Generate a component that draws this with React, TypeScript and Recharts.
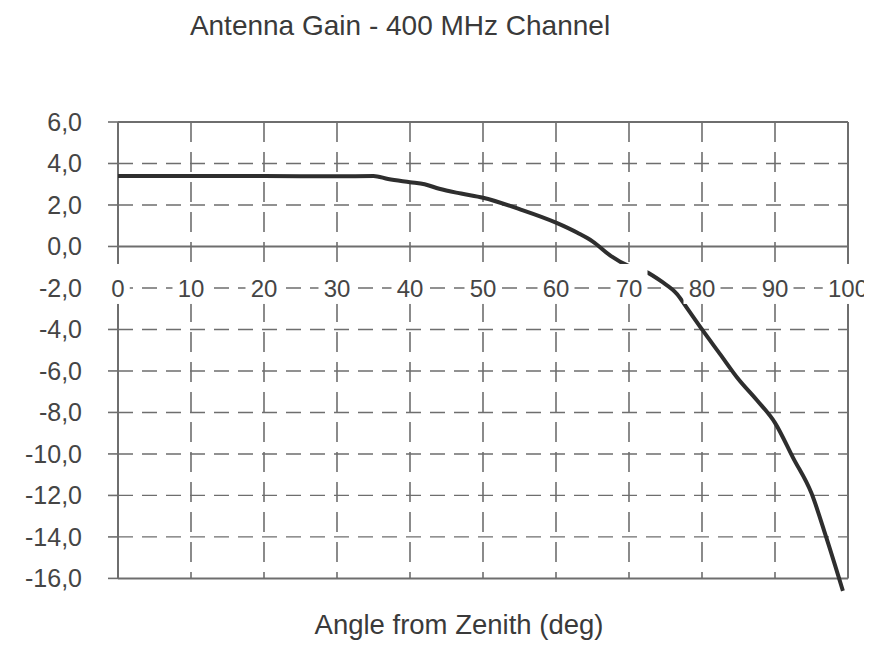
import {
  Line,
  LineChart,
  ReferenceDot,
  ReferenceLine,
  XAxis,
  YAxis,
} from "recharts";

// gain curve
const angles = [
  0, 10, 20, 30, 35, 37, 40, 42, 44, 47, 50, 55, 60, 63, 65, 67.5, 70, 72.2, 74.5, 76.6, 78, 80,
  82.5, 85, 87.5, 90, 92.5, 95, 97, 99.3,
];
const gains = [
  3.4, 3.4, 3.4, 3.38, 3.4, 3.25, 3.1, 3.0, 2.78, 2.55, 2.35, 1.8, 1.15, 0.65, 0.25, -0.45, -0.95,
  -1.2, -1.7, -2.3, -3.0, -4.0, -5.2, -6.4, -7.4, -8.5, -10.2, -11.9, -14.0, -16.6,
];

const xTicks = [0, 10, 20, 30, 40, 50, 60, 70, 80, 90, 100];
const yTicks = [6, 4, 2, 0, -2, -4, -6, -8, -10, -12, -14, -16];
const solidRows = [6, 0, -16];
const labelRow = -2;

const title = "Antenna Gain - 400 MHz Channel";
const xTitle = "Angle from Zenith (deg)";

const FONT = '"Liberation Sans", Arial, Helvetica, sans-serif';
const INK = "#454545";
const GRID = "#6e6e6e";

const data = angles.map((a, i) => ({ angle: a, gain: gains[i] }));

const fmtY = (v: number) => v.toFixed(1).replace(".", ",");

// x 눈금 라벨: 흰 상자 위에 숫자 (-2 줄에 걸쳐 있음)
function XLabel({ cx, cy, value }: { cx?: number; cy?: number; value: number }) {
  if (cx == null || cy == null) return null;
  const w = String(value).length * 13.5 + 10;
  return (
    <g>
      <rect x={cx - w / 2} y={cy - 24} width={w} height={40} fill="#ffffff" />
      <text
        x={cx}
        y={cy}
        dy="0.36em"
        textAnchor="middle"
        fontSize={24}
        fontFamily={FONT}
        fill={INK}
      >
        {value}
      </text>
    </g>
  );
}

export default function App() {
  return (
    <div style={{ position: "relative", width: 862, height: 632, background: "#fff" }}>
      <div
        style={{
          position: "absolute",
          left: 92,
          width: 600,
          top: 4,
          textAlign: "center",
          fontFamily: FONT,
          fontSize: 28,
          lineHeight: 1,
          color: "#3a3a3a",
        }}
      >
        {title}
      </div>
      <LineChart
        width={862}
        height={600}
        data={data}
        margin={{ top: 114, right: 22, bottom: 13, left: 0 }}
      >
        <XAxis type="number" dataKey="angle" domain={[0, 100]} ticks={xTicks} hide />
        <YAxis
          type="number"
          domain={[-16.8, 6]}
          ticks={yTicks}
          interval={0}
          axisLine={false}
          tickLine={{ stroke: GRID, strokeWidth: 1.6 }}
          tickSize={10}
          tickMargin={26}
          width={110}
          tickFormatter={fmtY}
          tick={{ fontSize: 25, fill: INK, fontFamily: FONT }}
        />
        {yTicks
          .filter((r) => !solidRows.includes(r))
          .map((r) => (
            <ReferenceLine
              key={`g${r}`}
              y={r}
              stroke={GRID}
              strokeWidth={1.4}
              strokeDasharray="15 9"
            />
          ))}
        {xTicks.slice(1, -1).map((t) => (
          <ReferenceLine
            key={`v${t}`}
            segment={[
              { x: t, y: 6 },
              { x: t, y: -16 },
            ]}
            stroke={GRID}
            strokeWidth={1.6}
            strokeDasharray="20 10"
          />
        ))}
        {solidRows.map((r) => (
          <ReferenceLine key={`h${r}`} y={r} stroke={GRID} strokeWidth={2} />
        ))}
        {[0, 100].map((t) => (
          <ReferenceLine
            key={`f${t}`}
            segment={[
              { x: t, y: 6 },
              { x: t, y: -16 },
            ]}
            stroke={GRID}
            strokeWidth={2}
          />
        ))}
        <Line
          type="monotone"
          dataKey="gain"
          stroke="#2e2e2e"
          strokeWidth={4}
          dot={false}
          activeDot={false}
          isAnimationActive={false}
        />
        {xTicks.map((t) => (
          <ReferenceDot
            key={`l${t}`}
            x={t}
            y={labelRow}
            r={0}
            shape={(p: { cx?: number; cy?: number }) => <XLabel cx={p.cx} cy={p.cy} value={t} />}
          />
        ))}
      </LineChart>
      <div
        style={{
          position: "absolute",
          left: 151,
          width: 600,
          top: 603,
          textAlign: "center",
          fontFamily: FONT,
          fontSize: 27.5,
          lineHeight: 1,
          color: "#3a3a3a",
        }}
      >
        {xTitle}
      </div>
    </div>
  );
}
